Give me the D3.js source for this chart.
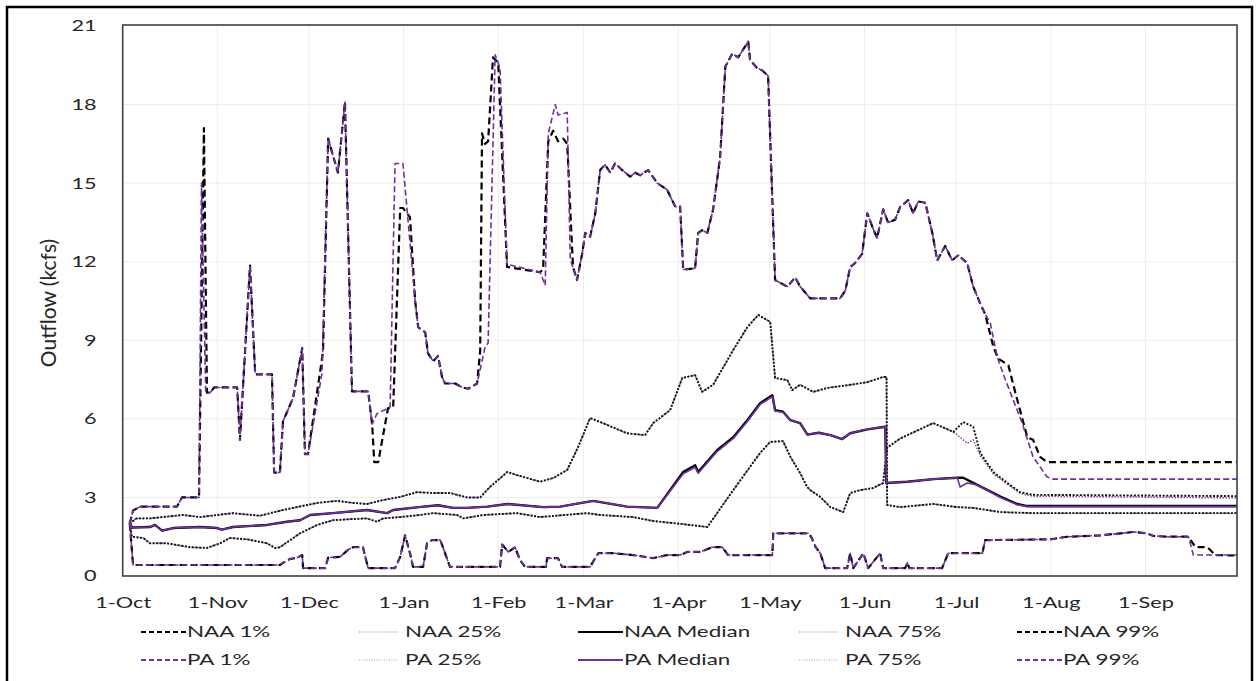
<!DOCTYPE html>
<html>
<head>
<meta charset="utf-8">
<script src="https://cdn.jsdelivr.net/npm/d3@7"></script>
<style>
  html, body { margin: 0; padding: 0; background: #fff; }
  svg text { font-family: Lato, "Open Sans", sans-serif; fill: #262626; }
</style>
</head>
<body>
<div id="app"></div>
<script>
// values: [days after 1-Oct, outflow kcfs]
const topStart = [[2.3,2.0],[3.4,2.5],[5.7,2.65],[17.8,2.65],[19.4,3.0],[25,3.0]];
const naaTopSpike = [[26.6,17.1],[27.6,7.0]];
const paTopSpike = [[25.8,15.0],[27.2,7.0]];
const topNov = [[28.6,7.0],[30,7.2],[37.5,7.2],[38.4,5.2],[41.7,11.85],[43.4,7.7],[48.9,7.7],[49.6,3.95],[51.5,3.95],
  [52.5,5.9],[55.8,6.8],[58.8,8.7],[59.7,4.65],[60.7,4.65]];
const naaTopDec0 = [[65.6,8.55]];
const paTopDec0 = [[65.3,7.75]];
const topDec = [[67.3,16.7],[70.5,15.4],[72.8,18.1],[75.1,7.05],[80.4,7.05],[81.7,5.8]];
const naaTopDec1 = [[82.4,4.35],[83.7,4.35],[86.9,6.4],[88.6,6.45],[90.9,14.05],[91.8,14.05],[94.1,13.7]];
const paTopDec1 = [[83.3,6.2],[87.6,6.45],[89.2,15.75],[91.8,15.75]];
const topJan = [[95.8,10.5],[96.8,9.5],[99.1,9.3],[100,8.5],[101.7,8.2],[103.3,8.4],[104.6,7.6],[105.6,7.35],[108.9,7.35],
  [111.2,7.2],[113.1,7.15],[116.1,7.35]];
const naaTopFeb = [[117.1,8.6],[117.7,16.9],[118.7,16.5],[119.7,16.6],[121.3,19.8],[123,19.6],[125.9,11.8],[136.7,11.6],
  [137.7,11.7],[139.4,16.6],[141,17.0],[142.6,16.6],[144.3,16.7],[145.6,16.5],[147.5,11.8]];
const paTopFeb = [[118.7,8.75],[119.7,8.9],[122,19.9],[123.6,19.4],[125.9,11.9],[136.7,11.6],
  [138.4,11.1],[139.4,16.9],[141.7,18.0],[142.6,17.6],[145.6,17.7],[146.6,12.1]];
const topMar = [[148.8,11.3],[150.5,12.3],[151.5,13.1],[153.1,12.95],[154.8,13.85],[156.4,15.5],[158,15.7],[159.7,15.4],
  [161.3,15.75],[163.6,15.5],[166.2,15.25],[167.9,15.4],[169.5,15.3],[172.1,15.5],[175.1,15.0],[178.3,14.75],[181,14.1],
  [182.6,14.1],[183.6,11.7],[187.5,11.75],[188.5,13.1],[189.8,13.2],[191.5,13.1],[193.4,14.0],[195.7,16.0],[197.4,19.45],
  [199.7,19.95],[201.6,19.8],[203.2,20.1],[204.9,20.4],[205.5,19.7],[207.8,19.4],[209.5,19.3],[211.4,19.1],[213.7,11.3],
  [217.7,11.05],[220.3,11.4],[221.9,11.05],[225.2,10.6],[235,10.6],[236.7,10.9],[238.3,11.8],[239.9,11.95],[242.2,12.3],
  [243.9,13.85],[245.5,13.35],[247.1,12.9],[249.1,14.0],[250.7,13.5],[253,13.6],[254.7,14.1],[257.3,14.35],[258.9,13.85],
  [260.6,14.3],[262.9,14.25],[265.2,13.1],[266.8,12.05],[269.4,12.6],[271.7,12.05],[273.7,12.25],[276.6,11.95],
  [278.6,11.05],[280.9,10.4],[282.5,10.0]];
const naaTopTail = [[285.2,8.75],[286.8,8.3],[290.1,8.05],[292.4,7.0],[296.3,5.3],[298.2,5.2],[300.5,4.55],[302.8,4.35],[365,4.35]];
const paTopTail = [[284.2,9.65],[286.5,8.35],[289.1,7.5],[294.6,5.85],[298.2,4.55],[302.8,3.78],[304.8,3.7],[365,3.7]];

const upperDotted = [[2.3,2.0],[4.5,2.2],[8.9,2.2],[19.8,2.33],[25.3,2.25],[36.1,2.4],[45,2.3],[52.5,2.52],[63.7,2.79],
  [70.2,2.87],[75.5,2.79],[80,2.75],[85.3,2.9],[90.9,3.02],[96.4,3.2],[101.7,3.17],[107.2,3.17],[112.8,3.0],[117.1,3.0],
  [120.3,3.4],[126,3.97],[129.2,3.85],[136.7,3.6],[141,3.74],[145.6,4.05],[149.2,4.93],[153.1,6.03],[156.4,5.88],
  [165.2,5.45],[171.1,5.38],[173.8,5.84],[179.3,6.33],[183.3,7.56],[187.5,7.67],[189.8,7.03],[193.4,7.3],[200,8.63],
  [204.6,9.5],[208.2,9.97],[212.1,9.7],[213.7,7.56],[217.7,7.48],[219.3,7.1],[221.9,7.3],[226.2,7.03],[230.8,7.18],
  [238.3,7.3],[243.9,7.4],[249.1,7.6],[250.2,7.6],[250.4,2.71],[254.7,2.63],[265.5,2.75],[273.4,2.63],[278.6,2.6],
  [287.5,2.44],[298.2,2.4],[365,2.4]];

const medianNaa = [[2.3,2.05],[3,1.85],[8.9,1.87],[10.6,1.95],[12.9,1.73],[16.5,1.83],[25.3,1.87],[30.9,1.83],[32.5,1.77],
  [36.1,1.87],[47.3,1.95],[53.8,2.07],[58.1,2.13],[61.4,2.33],[68.9,2.4],[80,2.52],[86.6,2.4],[88.6,2.52],[97,2.63],
  [103.3,2.7],[108.2,2.6],[112.8,2.6],[119.4,2.65],[126,2.75],[137.7,2.63],[143.3,2.65],[154.1,2.87],[165.2,2.65],
  [175.1,2.6],[183.6,3.97],[187.5,4.23],[188.5,3.97],[194.7,4.8],[200,5.3],[204.6,5.95],[208.8,6.6],[212.8,6.9],
  [213.7,6.33],[216.3,6.27],[218.7,5.95],[221.9,5.84],[224.3,5.4],[228,5.47],[231.8,5.38],[235.7,5.23],[238.3,5.45],
  [243.9,5.6],[249.8,5.7],[250.1,3.55],[257,3.6],[265.5,3.7],[273.4,3.75],[275.3,3.75],[279.9,3.48],[287.5,3.03],
  [293,2.75],[296.3,2.67],[365,2.67]];
const medianPa = [[2.3,2.05],[3,1.85],[8.9,1.87],[10.6,1.95],[12.9,1.73],[16.5,1.83],[25.3,1.87],[30.9,1.83],[32.5,1.77],
  [36.1,1.87],[47.3,1.95],[53.8,2.07],[58.1,2.13],[61.4,2.33],[68.9,2.4],[80,2.52],[86.6,2.4],[88.6,2.52],[97,2.63],
  [103.3,2.7],[108.2,2.6],[112.8,2.6],[119.4,2.65],[126,2.75],[137.7,2.63],[143.3,2.65],[154.1,2.87],[165.2,2.65],
  [175.1,2.6],[183.6,3.9],[187.5,4.15],[188.5,3.92],[194.7,4.75],[200,5.25],[204.6,5.9],[208.8,6.55],[212.8,6.85],
  [213.7,6.3],[216.3,6.25],[218.7,5.95],[221.9,5.84],[224.3,5.4],[228,5.47],[231.8,5.38],[235.7,5.23],[238.3,5.45],
  [243.9,5.6],[249.8,5.7],[250.1,3.55],[257,3.6],[265.5,3.7],[273.4,3.75],[274.3,3.4],[276.6,3.55],[279.9,3.48],
  [287.5,3.0],[293,2.72],[296.3,2.65],[365,2.65]];

const lowerDottedHead = [[2.3,2.0],[3,1.5],[6.8,1.45],[8.9,1.25],[14.4,1.25],[22.1,1.1],[27.6,1.07],[31.9,1.25],[35.1,1.45],
  [40.7,1.4],[47.3,1.25],[49.9,1.07],[51.5,1.1],[58.1,1.63],[63.7,1.95],[68.9,2.13],[74.5,2.17],[80,2.2],[83.3,2.07],
  [85.3,2.2],[90.9,2.25],[97.4,2.33],[101.7,2.4],[109.5,2.33],[111.5,2.2],[118.1,2.33],[129.2,2.4],[136.7,2.25],
  [152.1,2.4],[156.4,2.33],[167.2,2.25],[173.8,2.1],[183.6,1.98],[191.5,1.87],[200,3.28],[208.8,4.7],[212.1,5.12],
  [216.3,5.15],[218.7,4.55],[221.9,3.93],[224.2,3.4],[225.2,3.28],[228.5,3.02],[231.8,2.63],[236,2.44],[238.3,3.17],
  [241.6,3.28],[245.8,3.36],[249.1,3.55],[250.4,4.9],[254.7,5.25],[265.5,5.84],[272.1,5.5]];
const naaLowerDottedTail = [[275.3,5.88],[278.6,5.7],[280.9,4.7],[285.2,3.97],[289.8,3.55],[294,3.2],[298.2,3.1],[365,3.05]];
const paLowerDottedTail = [[274.3,5.3],[276.6,5.07],[278.6,5.2],[280.9,4.6],[285.2,3.9],[289.8,3.5],[294,3.15],[298.2,3.05],[365,2.98]];

const bottomHead = [[2.3,2.0],[3.4,0.42],[51.5,0.42],[52.5,0.5],[54.8,0.65],[57.1,0.7],[58.8,0.8],[59.1,0.3],[66.3,0.3],
  [67.3,0.7],[71.2,0.73],[73.8,1.0],[75.5,1.1],[78.7,1.1],[80.4,0.3],[89.2,0.3],[90.9,0.73],[92.5,1.55],[94.1,0.87],
  [95.1,0.35],[98.4,0.35],[99.7,1.25],[101.3,1.37],[104,1.37],[104.9,1.1],[107.2,0.35],[123.6,0.35],[124.3,1.2],
  [126.3,0.92],[128.5,1.1],[130.2,0.6],[131.8,0.35],[138.7,0.35],[139,0.68],[142.6,0.68],[143.9,0.35],[153.1,0.35],
  [154.1,0.55],[155.8,0.87],[160.6,0.87],[167.2,0.8],[173.8,0.68],[178.3,0.8],[182.6,0.8],[184.9,0.92],[189.2,0.92],
  [193.1,1.1],[196.4,1.1],[198.3,0.8],[212.8,0.8],[213.1,1.63],[224.5,1.63],[225.5,1.5],[227,1.1],[228.5,0.87],
  [230.1,0.3],[237.3,0.3],[238.3,0.87],[239.3,0.3],[242.6,0.87],[244.2,0.3],[248.1,0.87],[249.1,0.3],[256.3,0.3],
  [257,0.5],[257.7,0.3],[268.4,0.3],[270.4,0.87],[281.6,0.87],[282.5,1.37],[303.8,1.4],[309.4,1.5],[320.2,1.55],
  [331.1,1.68],[335.6,1.63],[337.6,1.53],[342.2,1.5],[349.1,1.5]];
const naaBottomTail = [[351.4,1.1],[355.3,1.1],[357.9,0.8],[365,0.78]];
const paBottomTail = [[350.7,0.8],[365,0.8]];

const yTicks = [0, 3, 6, 9, 12, 15, 18, 21];
const seriesNames = ['NAA 1%', 'NAA 25%', 'NAA Median', 'NAA 75%', 'NAA 99%',
                     'PA 1%', 'PA 25%', 'PA Median', 'PA 75%', 'PA 99%'];

const seriesData = [
  [...topStart, ...naaTopSpike, ...topNov, ...naaTopDec0, ...topDec, ...naaTopDec1, ...topJan, ...naaTopFeb, ...topMar, ...naaTopTail],
  upperDotted,
  medianNaa,
  [...lowerDottedHead, ...naaLowerDottedTail],
  [...bottomHead, ...naaBottomTail],
  [...topStart, ...paTopSpike, ...topNov, ...paTopDec0, ...topDec, ...paTopDec1, ...topJan, ...paTopFeb, ...topMar, ...paTopTail],
  upperDotted,
  medianPa,
  [...lowerDottedHead, ...paLowerDottedTail],
  [...bottomHead, ...paBottomTail]
];

// styles: kind per legend column
const kinds = ['dash', 'dot', 'solid', 'dot', 'dash'];
const PURPLE = '#7030a0';
const SX = 1.4;   // the reference text is stretched sideways

const W = 1257, H = 681;
const plotL = 122.7, plotR = 1237, plotT = 26, plotB = 576;

const svg = d3.select('#app').append('svg').attr('width', W).attr('height', H);

const t0 = Date.UTC(2021, 9, 1), t1 = Date.UTC(2022, 9, 1);
const x = d3.scaleUtc().domain([t0, t1]).range([plotL, plotR]);
const y = d3.scaleLinear().domain([0, 21]).range([plotB, plotT]);
const dayToDate = d => new Date(t0 + d * 864e5);
const months = d3.utcMonth.range(new Date(t0), new Date(t1));

// outer frame
svg.append('rect').attr('x', 7).attr('y', 7).attr('width', 1245).attr('height', 690)
  .attr('fill', 'none').attr('stroke', '#000').attr('stroke-width', 2.5);

// gridlines
svg.append('g').selectAll('line').data(yTicks.filter(v => v > 0 && v < 21)).join('line')
  .attr('x1', plotL).attr('x2', plotR).attr('y1', d => y(d)).attr('y2', d => y(d))
  .attr('stroke', '#ececec').attr('stroke-width', 1);
svg.append('g').selectAll('line').data(months.slice(1)).join('line')
  .attr('x1', d => x(d)).attr('x2', d => x(d)).attr('y1', plotT).attr('y2', plotB)
  .attr('stroke', '#ececec').attr('stroke-width', 1);

// lines
const line = d3.line().x(d => x(dayToDate(d[0]))).y(d => y(d[1]));
function styleFor(i) {
  const pa = i >= 5, kind = kinds[i % 5];
  if (kind === 'dash') return { color: pa ? PURPLE : '#000', width: pa ? 1.6 : 2.2, dash: pa ? '6,3' : '7,4' };
  if (kind === 'dot') return { color: pa ? '#7a4a98' : '#111', width: pa ? 1.5 : 1.9, dash: pa ? '1.5,1.5' : '2,1.6' };
  return { color: pa ? PURPLE : '#000', width: pa ? 1.6 : 2.4, dash: null };
}
// PA dotted first so the black dotted lines sit on top of them
const drawOrder = [6, 8, 0, 1, 2, 3, 4, 5, 7, 9];
svg.append('g').selectAll('path').data(drawOrder).join('path')
  .attr('d', i => line(seriesData[i]))
  .attr('fill', 'none')
  .attr('stroke', i => styleFor(i).color)
  .attr('stroke-width', i => styleFor(i).width)
  .attr('stroke-dasharray', i => styleFor(i).dash)
  .attr('stroke-linejoin', 'round');

// plot frame
svg.append('rect').attr('x', plotL).attr('y', plotT - 1).attr('width', plotR - plotL).attr('height', plotB - plotT + 1)
  .attr('fill', 'none').attr('stroke', '#404040').attr('stroke-width', 1.6);

// axes
const xAxis = svg.append('g').attr('transform', `translate(0,${plotB})`)
  .call(d3.axisBottom(x).tickValues(months).tickFormat(d3.utcFormat('%-d-%b')).tickSize(0));
xAxis.select('.domain').remove();
xAxis.selectAll('text').attr('y', null).attr('dy', null)
  .attr('transform', `translate(0,32) scale(${SX},1)`)
  .style('font-size', '15.5px').attr('fill', '#262626');

const yAxis = svg.append('g').attr('transform', `translate(${plotL},0)`)
  .call(d3.axisLeft(y).tickValues(yTicks).tickSize(0));
yAxis.select('.domain').remove();
yAxis.selectAll('text').attr('x', 0)
  .attr('transform', `translate(-26,0) scale(${SX},1)`)
  .style('font-size', '15.5px').attr('fill', '#262626');

// y title
svg.append('text')
  .attr('transform', 'translate(56,303) rotate(-90)')
  .attr('text-anchor', 'middle')
  .style('font-size', '21px')
  .text('Outflow (kcfs)');

// legend
const legendX = [187, 405, 624, 845, 1063];
const legendY = [637, 665];
seriesNames.forEach((name, i) => {
  const col = i % 5, row = Math.floor(i / 5);
  const s = styleFor(i), kind = kinds[col];
  const tx = legendX[col], ty = legendY[row] - 5;
  const lx0 = tx - 46;
  const lx1 = kind === 'dot' ? tx - 6 : tx - 1;
  svg.append('line').attr('x1', lx0).attr('x2', lx1).attr('y1', ty).attr('y2', ty)
    .attr('stroke', kind === 'dot' ? (row ? '#b49ac4' : '#8a8a8a') : s.color)
    .attr('stroke-width', kind === 'dot' ? 1 : 1.8)
    .attr('stroke-dasharray', kind === 'dash' ? '5,3' : kind === 'dot' ? '1,1.5' : null);
  svg.append('text')
    .attr('transform', `translate(${tx},${legendY[row]}) scale(${SX},1)`)
    .style('font-size', '16px')
    .text(name);
});
</script>
</body>
</html>
